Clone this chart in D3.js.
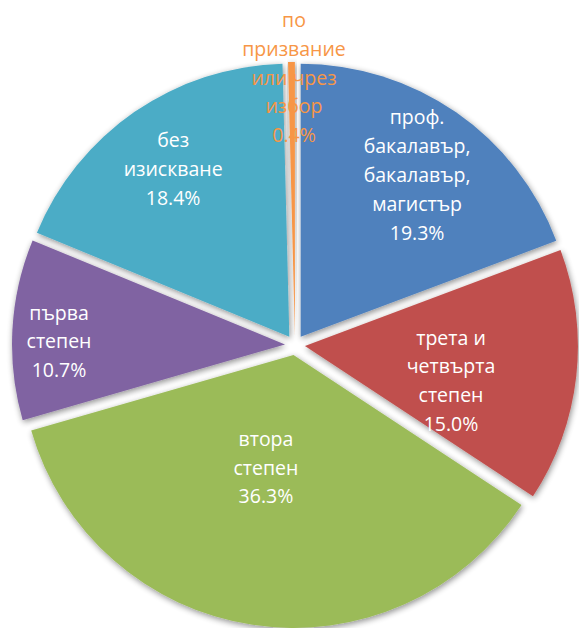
<!DOCTYPE html>
<html>
<head>
<meta charset="utf-8">
<script src="https://cdn.jsdelivr.net/npm/d3@7/dist/d3.min.js"></script>
<style>
  html, body { margin: 0; padding: 0; background: #ffffff; }
  svg { display: block; }
</style>
</head>
<body>
<svg id="chart" width="579" height="628"></svg>
<script>
// ---- data ----
const categories = [
  "проф. бакалавър, бакалавър, магистър",
  "трета и четвърта степен",
  "втора степен",
  "първа степен",
  "без изискване",
  "по призвание или чрез избор"
];
const labelLines = [
  ["проф.", "бакалавър,", "бакалавър,", "магистър"],
  ["трета и", "четвърта", "степен"],
  ["втора", "степен"],
  ["първа", "степен"],
  ["без", "изискване"],
  ["по", "призвание", "или чрез", "избор"]
];
const values = [19.3, 15.0, 36.3, 10.7, 18.4, 0.4];
const colors = ["#4F81BD", "#C0504D", "#9BBB59", "#8064A2", "#4BACC6", "#F79646"];

// ---- layout ----
const W = 579, H = 628;
const cx = 295, cy = 345, R = 273, explode = 10;
const lineH = 28.8;
// label anchor: [distance from pie centre, angle in degrees clockwise from north]
const labelPolar = [[205, 36.9], [162.5, 104.9], [131.7, 192.3], [235, 269.4], [208.7, 324.6], [261.4, 0]];
const labelColors = ["#ffffff", "#ffffff", "#ffffff", "#ffffff", "#ffffff", "#F79646"];

const svg = d3.select("#chart");
const defs = svg.append("defs");
const f = defs.append("filter").attr("id", "shadow")
  .attr("x", "-20%").attr("y", "-20%").attr("width", "140%").attr("height", "140%");
f.append("feGaussianBlur").attr("in", "SourceAlpha").attr("stdDeviation", 3).attr("result", "b");
f.append("feOffset").attr("in", "b").attr("dx", 1).attr("dy", 1.5).attr("result", "o");
f.append("feComponentTransfer").attr("in", "o").attr("result", "s")
  .append("feFuncA").attr("type", "linear").attr("slope", 0.45);
const m = f.append("feMerge");
m.append("feMergeNode").attr("in", "s");
m.append("feMergeNode").attr("in", "SourceGraphic");

const data = categories.map((c, i) => ({ name: c, value: values[i], color: colors[i], lines: labelLines[i], idx: i }));

const pie = d3.pie().value(d => d.value).sort(null).startAngle(0).endAngle(2 * Math.PI);
const arcs = pie(data);
const arc = d3.arc().innerRadius(0).outerRadius(R);

const g = svg.append("g").attr("transform", `translate(${cx},${cy})`);

g.selectAll("path.slice")
  .data(arcs)
  .join("path")
  .attr("class", "slice")
  .attr("d", arc)
  .attr("fill", d => d.data.color)
  .attr("filter", "url(#shadow)")
  .attr("transform", d => {
    const a = (d.startAngle + d.endAngle) / 2;
    return `translate(${explode * Math.sin(a)},${-explode * Math.cos(a)})`;
  });

const fmt = d3.format(".1f");
g.selectAll("text.lbl")
  .data(arcs)
  .join("text")
  .attr("class", "lbl")
  .attr("text-anchor", "middle")
  .attr("font-family", "'Open Sans', 'Noto Sans', sans-serif")
  .attr("font-size", 19.5)
  .attr("fill", (d, i) => labelColors[i])
  .each(function (d, i) {
    const [dist, deg] = labelPolar[i];
    const a = deg * Math.PI / 180;
    const x = dist * Math.sin(a) - 1, y = -dist * Math.cos(a) + 1;
    const lines = d.data.lines.concat([fmt(d.data.value) + "%"]);
    const n = lines.length;
    const t = d3.select(this);
    lines.forEach((ln, k) => {
      t.append("tspan")
        .attr("x", x)
        .attr("y", y + (k - (n - 1) / 2) * lineH)
        .text(ln);
    });
  });
</script>
</body>
</html>
